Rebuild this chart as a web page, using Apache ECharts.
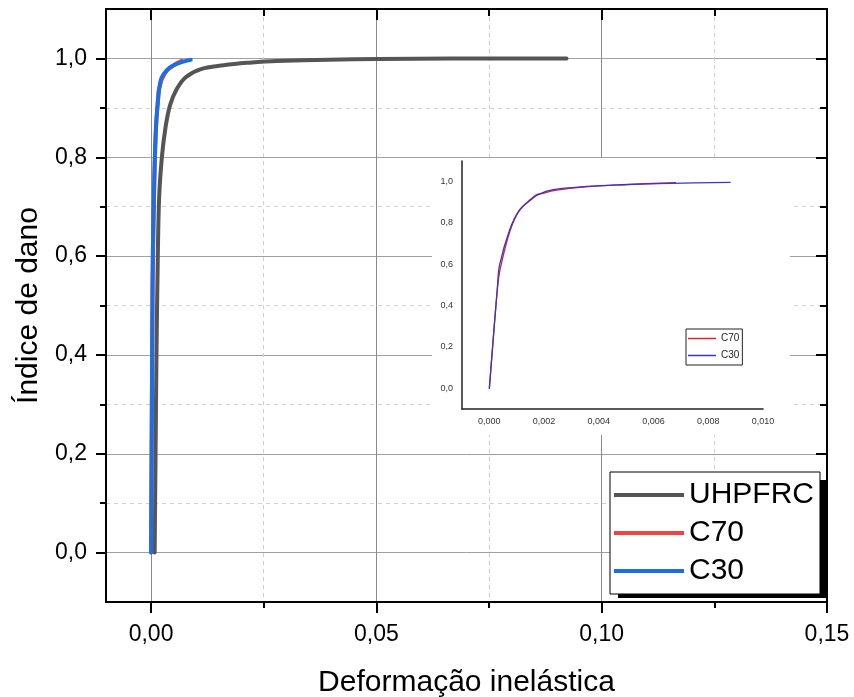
<!DOCTYPE html>
<html>
<head>
<meta charset="utf-8">
<script src="https://cdn.jsdelivr.net/npm/echarts@6/dist/echarts.min.js"></script>
<style>
  html, body { margin: 0; padding: 0; background: #fff; }
  #chart { width: 854px; height: 697px; }
</style>
</head>
<body>
<div id="chart"></div>
<script>
// ---- 数据 ----
const uhpfrcData = [
  [0.0008, 0.0], [0.0010, 0.20], [0.0012, 0.40], [0.0015, 0.60], [0.0018, 0.72],
  [0.0024, 0.80], [0.0032, 0.86], [0.0042, 0.905], [0.0057, 0.938], [0.0077, 0.962],
  [0.0109, 0.978], [0.0161, 0.986], [0.0213, 0.991], [0.0279, 0.995], [0.0502, 0.999],
  [0.0922, 1.0]
];
const c70Data = [
  [0.0, 0.0], [0.0003, 0.49], [0.0004, 0.58], [0.00075, 0.76], [0.0011, 0.86],
  [0.0017, 0.935], [0.0019, 0.942], [0.0024, 0.958], [0.0035, 0.975], [0.0050, 0.986],
  [0.0068, 0.995]
];
const c30Data = [
  [0.0, 0.0], [0.0003, 0.50], [0.00037, 0.595], [0.00074, 0.766], [0.0011, 0.863],
  [0.0015, 0.910], [0.00178, 0.937], [0.00233, 0.961], [0.00356, 0.977], [0.0048, 0.985],
  [0.00663, 0.992], [0.0088, 0.997]
];

// 刻度
const xMajor = [0, 0.05, 0.10, 0.15];
const xMinor = [0.025, 0.075, 0.125];
const yMajor = [0, 0.2, 0.4, 0.6, 0.8, 1.0];
const yMinor = [0.1, 0.3, 0.5, 0.7, 0.9];
const insetXTicks = [0, 0.002, 0.004, 0.006, 0.008, 0.010];
const insetYTicks = [0, 0.2, 0.4, 0.6, 0.8, 1.0];

const FONT = 'Liberation Sans, Arial, sans-serif';
const comma = (v, d) => v.toFixed(d).replace('.', ',');

const chart = echarts.init(document.getElementById('chart'));

// 主坐标框：四边都有线和刻度
function xAx(pos, ticks, len, inside, extra) {
  return Object.assign({
    type: 'value', gridIndex: 0, position: pos, min: -0.01, max: 0.15,
    axisLine: { show: true, onZero: false, lineStyle: { color: '#000', width: 2 } },
    axisTick: { show: true, customValues: ticks, length: len, inside: inside, lineStyle: { color: '#000', width: 2 } },
    axisLabel: { show: false },
    splitLine: { show: false }
  }, extra || {});
}
function yAx(pos, ticks, len, inside, extra) {
  return Object.assign({
    type: 'value', gridIndex: 0, position: pos, min: -0.1, max: 1.1,
    axisLine: { show: true, onZero: false, lineStyle: { color: '#000', width: 2 } },
    axisTick: { show: true, customValues: ticks, length: len, inside: inside, lineStyle: { color: '#000', width: 2 } },
    axisLabel: { show: false },
    splitLine: { show: false }
  }, extra || {});
}

function lineSeries(name, data, xi, color, width, z) {
  return {
    name: name, type: 'line', xAxisIndex: xi, yAxisIndex: xi, data: data,
    showSymbol: false, smooth: 0.35,
    lineStyle: { color: color, width: width, cap: 'round', join: 'round' },
    itemStyle: { color: color }, z: z
  };
}

chart.setOption({
  backgroundColor: '#fff',
  animation: false,
  textStyle: { fontFamily: FONT },
  grid: [
    { left: 106, top: 9, right: 27, bottom: 95, outerBoundsMode: 'none' },
    { left: 462, top: 161, right: 91, bottom: 288, outerBoundsMode: 'none' }
  ],
  xAxis: [
    xAx('bottom', xMajor, 11, false, {
      axisLabel: { show: true, customValues: xMajor, margin: 21, fontSize: 23, color: '#000', fontFamily: FONT,
        formatter: v => comma(v, 2) },
      splitLine: { show: true, lineStyle: { color: '#8a8a8a', width: 1 } },
      name: 'Deformação inelástica', nameLocation: 'middle', nameGap: 66,
      nameTextStyle: { fontSize: 30, color: '#000', fontFamily: FONT }
    }),
    xAx('bottom', xMinor, 6, false, {
      splitLine: { show: true, lineStyle: { color: '#d0d0d0', width: 1, type: [4, 4] } }
    }),
    xAx('top', xMajor, 11, true),
    xAx('top', xMinor, 7, true),
    {
      type: 'value', gridIndex: 1, min: -0.001, max: 0.010, position: 'bottom',
      axisLine: { show: true, onZero: false, lineStyle: { color: '#222', width: 1.5 } },
      axisTick: { show: false, customValues: insetXTicks },
      axisLabel: { customValues: insetXTicks, margin: 8, fontSize: 9, color: '#333', fontFamily: FONT,
        formatter: v => comma(v, 3) },
      splitLine: { show: false }, z: 10
    }
  ],
  yAxis: [
    yAx('left', yMajor, 10, false, {
      axisLabel: { show: true, customValues: yMajor, margin: 19, fontSize: 23, color: '#000', fontFamily: FONT,
        formatter: v => comma(v, 1) },
      splitLine: { show: true, lineStyle: { color: '#a0a0a0', width: 1 } },
      name: 'Índice de dano', nameLocation: 'middle', nameGap: 62,
      nameTextStyle: { fontSize: 30, color: '#000', fontFamily: FONT }
    }),
    yAx('left', yMinor, 6, false, {
      splitLine: { show: true, lineStyle: { color: '#d0d0d0', width: 1, type: [4, 4] } }
    }),
    yAx('right', yMajor, 11, true),
    yAx('right', yMinor, 7, true),
    {
      type: 'value', gridIndex: 1, min: -0.1, max: 1.1, position: 'left',
      axisLine: { show: true, onZero: false, lineStyle: { color: '#222', width: 1.5 } },
      axisTick: { show: false, customValues: insetYTicks },
      axisLabel: { customValues: insetYTicks, margin: 9, fontSize: 9, color: '#333', fontFamily: FONT,
        formatter: v => comma(v, 1) },
      splitLine: { show: false }, z: 10
    }
  ],
  graphic: [
    // 插图的白色底板，盖住主网格线
    { type: 'rect', z: 5, silent: true,
      shape: { x: 432, y: 158, width: 358, height: 277 },
      style: { fill: '#fff' } },
    // 主图例后面的黑色阴影
    { type: 'rect', z: 15, silent: true,
      shape: { x: 618, y: 480, width: 210, height: 118 },
      style: { fill: '#000' } }
  ],
  legend: [
    {
      data: ['UHPFRC', 'C70', 'C30'],
      orient: 'vertical', left: 610, top: 472,
      icon: 'rect', itemWidth: 70, itemHeight: 4, itemGap: 4,
      padding: [6, 6, 6, 4],
      backgroundColor: '#fff', borderColor: '#000', borderWidth: 1,
      textStyle: { fontSize: 30, color: '#000', fontFamily: FONT, lineHeight: 34 },
      z: 20
    },
    {
      data: ['C70 inset', 'C30 inset'],
      orient: 'vertical', left: 686, top: 329,
      icon: 'rect', itemWidth: 28, itemHeight: 1.5, itemGap: 4,
      padding: [3, 3, 3, 2],
      backgroundColor: '#fff', borderColor: '#222', borderWidth: 1,
      formatter: n => n.split(' ')[0],
      textStyle: { fontSize: 10, color: '#222', fontFamily: FONT, lineHeight: 13 },
      z: 20
    }
  ],
  series: [
    lineSeries('UHPFRC', uhpfrcData, 0, '#555555', 4, 3),
    lineSeries('C70', c70Data, 0, '#ef4444', 4, 3),
    lineSeries('C30', c30Data, 0, '#1c6fe3', 4, 3),
    lineSeries('C70 inset', c70Data, 4, '#e0202a', 1.3, 10),
    lineSeries('C30 inset', c30Data, 4, '#3636c8', 1.3, 10)
  ]
});
</script>
</body>
</html>
